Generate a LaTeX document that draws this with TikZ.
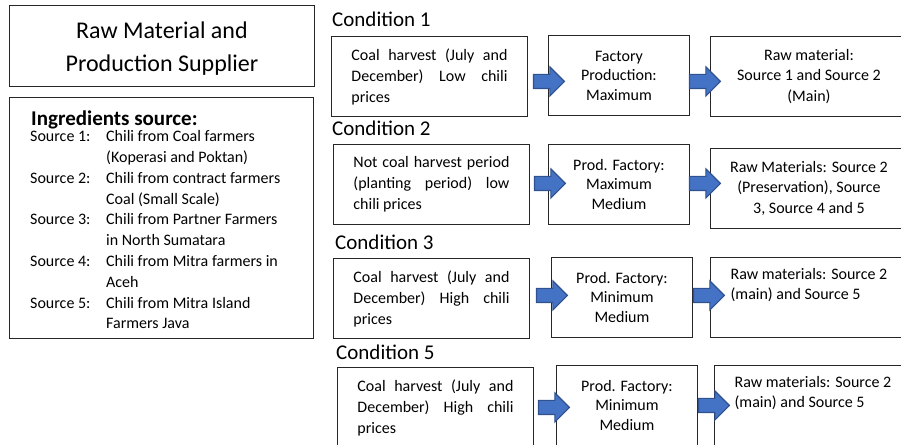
\documentclass[tikz,border=0pt]{standalone}
\usepackage{fontspec}
\setmainfont{Carlito}
\usepackage{xcolor}
\usetikzlibrary{shapes.arrows,calc,positioning}
\definecolor{arrowfill}{HTML}{4472C4}
\definecolor{arrowedge}{HTML}{2F528F}
\tikzset{
	box/.style={draw=black!85, line width=0.9pt, inner sep=0pt, font=\fontsize{16}{21}\selectfont},
	srcbox/.style={box, align=left, minimum width=196pt, minimum height=80pt, anchor=north west},
	facbox/.style={box, align=center, minimum width=141pt, minimum height=80pt, anchor=north west, font=\fontsize{16}{19.5}\selectfont},
	rawbox/.style={box, minimum width=197pt, minimum height=80pt, anchor=north west, font=\fontsize{16}{20.5}\selectfont},
	condlabel/.style={anchor=base west, inner sep=0pt, font=\fontsize{21}{25}\selectfont},
	blockarrow/.style={single arrow, draw=arrowedge, fill=arrowfill, line width=1.1pt, inner sep=6.5pt, single arrow head extend=7.5pt, minimum height=31pt, anchor=west},
}
\newcommand{\spreadline}[1]{\makebox[156pt][s]{#1}}
\newcommand{\lastline}[1]{\makebox[156pt][l]{#1}}

\begin{document}
\begin{tikzpicture}[x=1pt, y=-1pt]
\useasboundingbox (0,0) rectangle (901,444);
\clip (0,0) rectangle (901,444);

% supplier side
\node[box, minimum width=305pt, minimum height=81pt, anchor=north west] (title) at (9,5) {};
\node[align=center, inner sep=0pt, font=\fontsize{24}{33}\selectfont] (titletext) at ($(title.center)+(0,3)$) {Raw Material and\\Production Supplier};
\node[box, minimum width=304pt, minimum height=241pt, anchor=north west] (ingbox) at (9,97) {};
\node[anchor=base west, inner sep=0pt, font=\bfseries\fontsize{21}{25}\selectfont] (inghead) at ($(ingbox.north west)+(22,28)$) {Ingredients source:};
\node[anchor=north west, inner sep=0pt, font=\fontsize{16}{20.8}\selectfont] (inglist) at ($(ingbox.north west)+(21,30)$) {%
	\begin{tabular}{@{}p{76pt}@{}l@{}}
	Source 1: & Chili from Coal farmers\\
	          & (Koperasi and Poktan)\\
	Source 2: & Chili from contract farmers\\
	          & Coal (Small Scale)\\
	Source 3: & Chili from Partner Farmers\\
	          & in North Sumatara\\
	Source 4: & Chili from Mitra farmers in\\
	          & Aceh\\
	Source 5: & Chili from Mitra Island\\
	          & Farmers Java
	\end{tabular}};

% condition 1
\node[srcbox] (c1src) at (331,36) {\spreadline{Coal harvest (July and}\\\spreadline{December) Low chili}\\\lastline{prices}};
\node[facbox] (c1fac) at (548,35) {Factory\\Production:\\Maximum};
\node[rawbox, align=center] (c1raw) at (710,36) {Raw material:\\Source 1 and Source 2\\(Main)};
\node[condlabel] (cond1) at ($(c1src.north west)+(1,-9)$) {Condition 1};
\node[blockarrow] (c1go) at ($(c1src.east)+(5,5)$) {};
\node[blockarrow] (c1use) at ($(c1fac.east)+(-1,6)$) {};

% condition 2
\node[srcbox] (c2src) at (333,144) {\spreadline{Not coal harvest period}\\\spreadline{(planting period) low}\\\lastline{chili prices}};
\node[facbox] (c2fac) at (548,144) {Prod. Factory:\\Maximum\\Medium};
\node[rawbox, align=center] (c2raw) at (710,148) {Raw Materials: Source 2\\(Preservation), Source\\3, Source 4 and 5};
\node[condlabel] (cond2) at ($(c2src.north west)+(-1,-9)$) {Condition 2};
\node[blockarrow] (c2go) at ($(c2src.east)+(4,-1)$) {};
\node[blockarrow] (c2use) at ($(c2fac.east)+(-1,-1)$) {};

% condition 3
\node[srcbox] (c3src) at (333,258) {\spreadline{Coal harvest (July and}\\\spreadline{December) High chili}\\\lastline{prices}};
\node[facbox] (c3fac) at (551,257) {Prod. Factory:\\Minimum\\Medium};
\node[rawbox, align=left] (c3raw) at (710,257) {Raw materials: Source 2\\(main) and Source 5\\\strut};
\node[condlabel] (cond3) at ($(c3src.north west)+(2,-9)$) {Condition 3};
\node[blockarrow] (c3go) at ($(c3src.east)+(6,-3)$) {};
\node[blockarrow] (c3use) at ($(c3fac.east)+(0,-2)$) {};

% condition 5
\node[srcbox] (c5src) at (337,367) {\spreadline{Coal harvest (July and}\\\spreadline{December) High chili}\\\lastline{prices}};
\node[facbox] (c5fac) at (556,365) {Prod. Factory:\\Minimum\\Medium};
\node[rawbox, align=left] (c5raw) at (714,365) {Raw materials: Source 2\\(main) and Source 5\\\strut};
\node[condlabel] (cond5) at ($(c5src.north west)+(-1,-8)$) {Condition 5};
\node[blockarrow] (c5go) at ($(c5src.east)+(4,0)$) {};
\node[blockarrow] (c5use) at ($(c5fac.east)+(0,0)$) {};
\end{tikzpicture}
\end{document}
